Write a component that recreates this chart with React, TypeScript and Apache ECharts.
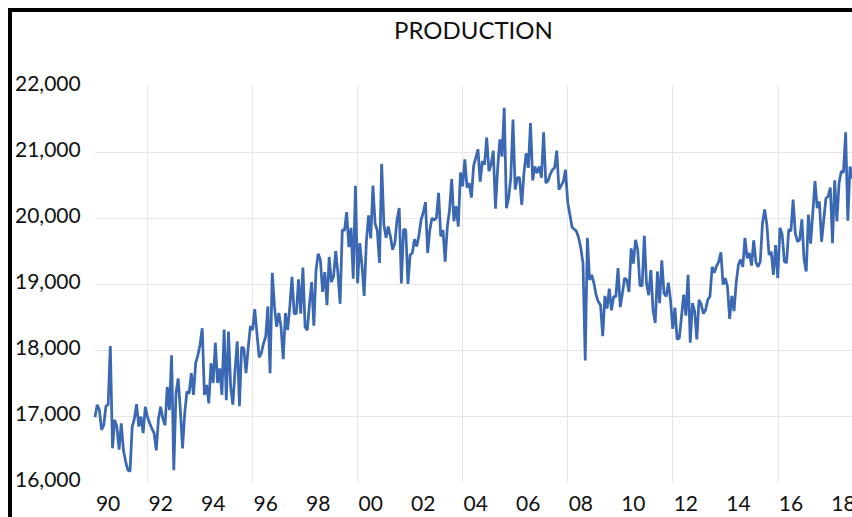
import React, { useEffect, useRef } from "react";
import * as echarts from "echarts";

// Monthly production, Jan 1990 onward
const prod1990s = [
  16980, 17170, 17090, 16790, 16860, 17150, 17170, 18060, 16510, 16940, 16840, 16490,
  16890, 16480, 16310, 16180, 16160, 16840, 16960, 17180, 16840, 16990, 16740, 17140,
  16980, 16890, 16810, 16740, 16480, 16960, 17140, 16960, 16860, 17440, 17090, 17920,
  16180, 17340, 17570, 17090, 16510, 17040, 17370, 17340, 17650, 17320, 17800, 17920,
  18080, 18330, 17320, 17470, 17190, 17800, 17500, 18110, 17500, 17720, 17320, 18310,
  17240, 18280, 17440, 17170, 17700, 18130, 17150, 18040, 18030, 17650, 18030, 18360,
  18300, 18620, 18250, 17890, 17950, 18100, 18200, 18660, 17650, 19170, 18660, 18350,
  18560, 18350, 17860, 18560, 18300, 18650, 19110, 18550, 18550, 19070, 18550, 19250,
  18350, 18300, 18700, 19030, 18370, 19210, 19460, 19360, 18880, 19180, 18680, 19410,
  19030, 19110, 19500, 19160, 18700, 19820, 19810, 20090, 19560, 19850, 19080, 20490,
];
const prod2000s = [
  19010, 19620, 19280, 18820, 19640, 20040, 19690, 20490, 19910, 19810, 19320, 20820,
  19900, 19700, 19870, 19720, 19520, 19620, 19970, 20150, 19010, 19830, 19820, 19000,
  19440, 19470, 19680, 19570, 19730, 19970, 20080, 20240, 19470, 19820, 20000, 19970,
  20000, 20380, 19720, 19820, 19340, 19870, 20120, 20590, 19950, 20180, 19870, 20690,
  20480, 20890, 20460, 20530, 20310, 20790, 20910, 21040, 20550, 20860, 20810, 21220,
  20710, 20810, 21020, 20140, 20760, 21190, 20930, 21670, 20150, 20300, 20610, 21490,
  20430, 20610, 20610, 20200, 20680, 20980, 20760, 21440, 20570, 20780, 20680, 20780,
  20610, 21300, 20530, 20560, 20660, 20730, 20760, 21020, 20430, 20490, 20550, 20730,
  20240, 20050, 19860, 19830, 19800, 19700, 19540, 19310, 17840, 19700, 19060, 19140,
  19010, 18830, 18730, 18680, 18210, 18820, 18630, 18930, 18600, 18810, 18810, 19240,
];
const prod2010s = [
  18650, 18860, 19090, 19060, 18880, 19540, 19310, 19670, 19520, 18980, 18970, 19730,
  19010, 18830, 19210, 18600, 18410, 19190, 18710, 19360, 18860, 18810, 19020, 18750,
  18320, 18640, 18160, 18180, 18510, 18840, 18520, 19140, 18110, 18710, 18590, 18160,
  18760, 18690, 18550, 18610, 18760, 18810, 19260, 19170, 19270, 19340, 19480, 18990,
  19090, 18960, 18470, 18820, 18590, 19020, 19290, 19370, 19260, 19700, 19390, 19470,
  19280, 19660, 19330, 19260, 19340, 19920, 20130, 19900, 19440, 19490, 19140, 19590,
  19090, 19850, 19750, 19340, 19320, 19830, 19800, 20280, 19770, 19640, 19670, 19980,
  19370, 19190, 20050, 19610, 20080, 20560, 20150, 20250, 19640, 19970, 20300, 20330,
  20460, 19620, 20570, 19950, 20530, 20710, 20690, 21300, 19960, 20780, 20600,
];

const startYear = 1990;
const yearLabels = ["90", "92", "94", "96", "98", "00", "02", "04", "06", "08", "10", "12", "14", "16", "18"];
const yTicks = [16000, 17000, 18000, 19000, 20000, 21000, 22000];

const values = [...prod1990s, ...prod2000s, ...prod2010s];
const categories = values.map((_, i) => {
  const y = startYear + Math.floor(i / 12);
  const mo = (i % 12) + 1;
  return `${y}-${mo < 10 ? "0" + mo : mo}`;
});

const FONT = "Lato, 'Open Sans', sans-serif";

export default function App() {
  const ref = useRef<HTMLDivElement>(null);

  useEffect(() => {
    if (!ref.current) return;
    const chart = echarts.init(ref.current, undefined, { renderer: "svg" });
    chart.setOption({
      animation: false,
      backgroundColor: "#ffffff",
      title: {
        text: "PRODUCTION",
        left: 377,
        top: 0,
        textStyle: { fontFamily: FONT, fontSize: 24, fontWeight: "normal", color: "#111" },
      },
      grid: { left: 79, top: 74, bottom: 35, right: 59.8, containLabel: false },
      xAxis: {
        type: "category",
        data: categories,
        boundaryGap: false,
        axisLine: { show: false },
        axisTick: { show: false },
        axisLabel: {
          interval: (i: number) => i % 24 === 6,
          formatter: (v: string) => {
            const yr = parseInt(v.slice(0, 4), 10);
            const idx = (yr - startYear) / 2;
            return yearLabels[idx] ?? "";
          },
          margin: 10,
          fontFamily: FONT,
          fontSize: 21,
          color: "#111",
        },
        splitLine: {
          show: true,
          interval: (i: number) => i % 48 === 24,
          lineStyle: { color: "#e6e6e6", width: 1 },
        },
      },
      yAxis: {
        type: "value",
        min: yTicks[0],
        max: yTicks[yTicks.length - 1],
        interval: 1000,
        axisLine: { show: false },
        axisTick: { show: false },
        axisLabel: {
          align: "left",
          verticalAlign: "bottom",
          lineHeight: 8,
          margin: 80,
          fontFamily: FONT,
          fontSize: 21,
          color: "#111",
          formatter: (v: number) => v.toLocaleString("en-US"),
        },
        splitLine: {
          show: true,
          showMinLine: false,
          showMaxLine: false,
          lineStyle: { color: "#e6e6e6", width: 1 },
        },
      },
      series: [
        {
          type: "line",
          data: values,
          symbol: "none",
          lineStyle: { color: "#3a68b2", width: 2.75 },
        },
      ],
    });
    return () => chart.dispose();
  }, []);

  return (
    <div
      style={{
        position: "fixed",
        left: 8,
        top: 8,
        width: 844,
        height: 509,
        overflow: "hidden",
        borderLeft: "4px solid #000",
        borderTop: "4px solid #000",
        boxSizing: "border-box",
        background: "#fff",
      }}
    >
      <div ref={ref} style={{ width: 900, height: 505 }} />
    </div>
  );
}
